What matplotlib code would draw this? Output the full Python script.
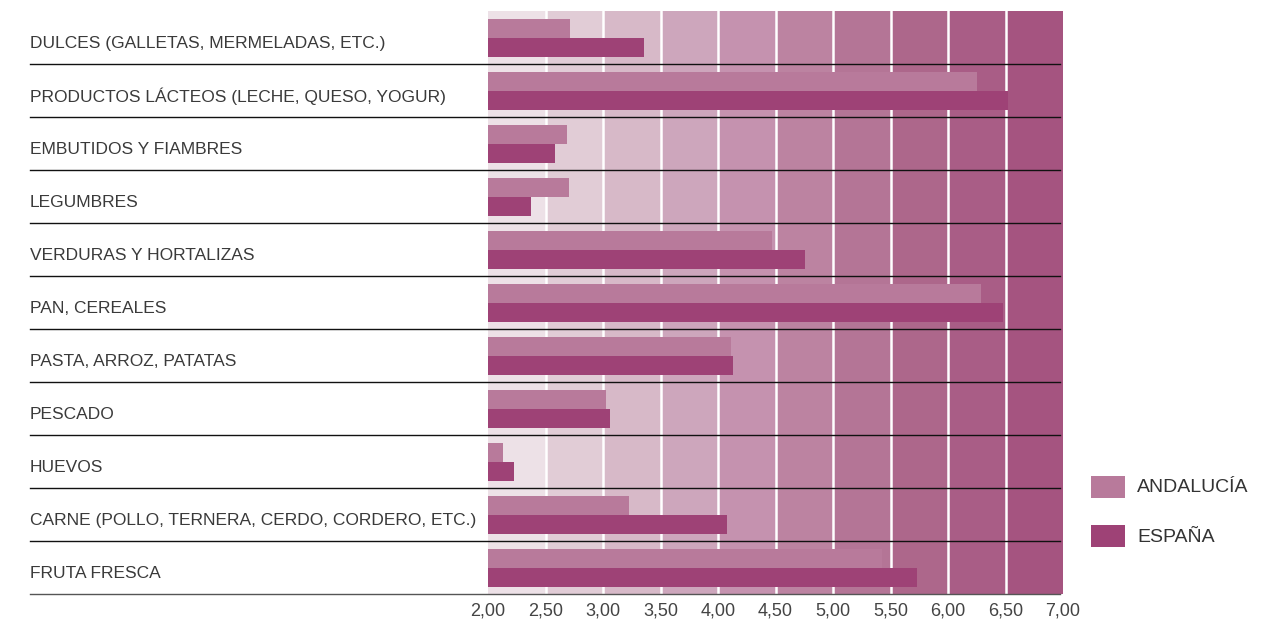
import matplotlib
matplotlib.use("Agg")
import matplotlib.pyplot as plt
from matplotlib.patches import Rectangle
import matplotlib.transforms as mtransforms

categories = [
    "DULCES (GALLETAS, MERMELADAS, ETC.)",
    "PRODUCTOS LÁCTEOS (LECHE, QUESO, YOGUR)",
    "EMBUTIDOS Y FIAMBRES",
    "LEGUMBRES",
    "VERDURAS Y HORTALIZAS",
    "PAN, CEREALES",
    "PASTA, ARROZ, PATATAS",
    "PESCADO",
    "HUEVOS",
    "CARNE (POLLO, TERNERA, CERDO, CORDERO, ETC.)",
    "FRUTA FRESCA",
]
andalucia = [2.71, 6.25, 2.69, 2.70, 4.47, 6.29, 4.11, 3.03, 2.13, 3.23, 5.43]
espana = [3.36, 6.52, 2.58, 2.37, 4.76, 6.48, 4.13, 3.06, 2.23, 4.08, 5.73]
series_names = ["ANDALUCÍA", "ESPAÑA"]
xticks = [2.0, 2.5, 3.0, 3.5, 4.0, 4.5, 5.0, 5.5, 6.0, 6.5, 7.0]
xtick_labels = ["2,00", "2,50", "3,00", "3,50", "4,00", "4,50", "5,00", "5,50", "6,00", "6,50", "7,00"]

band_colors = ["#EDE1E7", "#E1CCD6", "#D7B9C8", "#CDA6BC", "#C592AF", "#BC83A1",
               "#B47596", "#AD678B", "#A95D86", "#A55480"]
c_and = "#B87A9B"
c_esp = "#9E4276"

plt.rcParams['font.family'] = ['Liberation Sans', 'DejaVu Sans']

W, H = 1284, 620
fig = plt.figure(figsize=(W / 100, H / 100), dpi=100)
x0, x1 = 488, 1063
y0, y1 = 11, 594
ax = fig.add_axes([x0 / W, 1 - y1 / H, (x1 - x0) / W, (y1 - y0) / H])

n = len(categories)
ax.set_xlim(2.0, 7.0)
ax.set_ylim(n - 0.5, -0.5)

for i in range(len(band_colors)):
    ax.axvspan(xticks[i], xticks[i + 1], color=band_colors[i], lw=0, zorder=0)
for xv in xticks[1:-1]:
    ax.axvline(xv, color="white", lw=1.8, zorder=1)

h = 0.36
ys = list(range(n))
ax.barh([y - h / 2 + 0.015 for y in ys], [v - 2.0 for v in andalucia], left=2.0, height=h,
        color=c_and, lw=0, zorder=2)
ax.barh([y + h / 2 + 0.015 for y in ys], [v - 2.0 for v in espana], left=2.0, height=h,
        color=c_esp, lw=0, zorder=2)

# separator lines
trans = mtransforms.blended_transform_factory(ax.transAxes, ax.transData)
lx0 = (30 - x0) / (x1 - x0)
lx1 = (1060 - x0) / (x1 - x0)
for i in range(n):
    col = "#111111" if i < n - 1 else "#555555"
    ax.plot([lx0, lx1], [i + 0.5, i + 0.5], transform=trans, color=col, lw=1.0,
            clip_on=False, zorder=3)

# category labels
for i, c in enumerate(categories):
    ax.text(lx0, i + 0.11, c, transform=trans, ha="left", va="center",
            fontsize=12.5, color="#3a3a3a")

for s in ax.spines.values():
    s.set_visible(False)
ax.set_yticks([])
ax.set_xticks(xticks)
ax.set_xticklabels(xtick_labels, fontsize=13, color="#444444")
ax.tick_params(axis="x", length=0, pad=6)

# legend
for k, (name, col) in enumerate(zip(series_names, [c_and, c_esp])):
    top = 476 + k * 49
    fig.patches.append(Rectangle((1091 / W, 1 - (top + 22) / H), 34 / W, 22 / H,
                                 transform=fig.transFigure, color=col, lw=0))
    fig.text(1137 / W, 1 - (top + 12) / H, name, ha="left", va="center",
             fontsize=14, color="#333333")

fig.savefig("out.png", dpi=100)
